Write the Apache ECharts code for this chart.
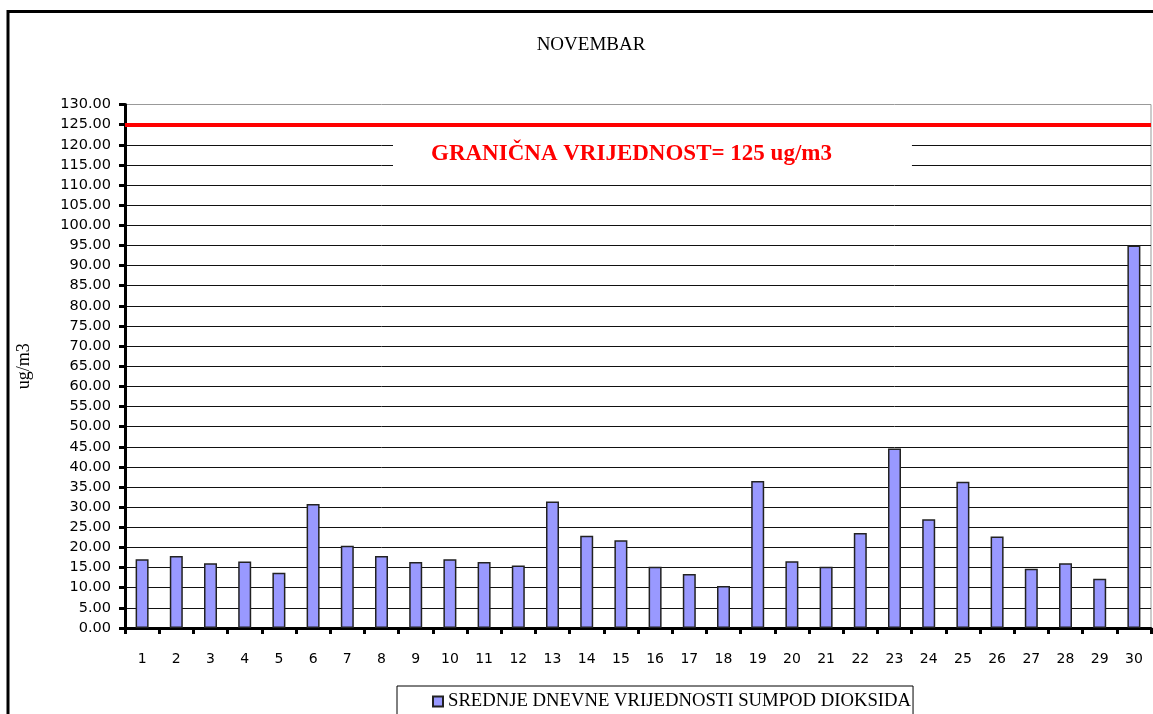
<!DOCTYPE html>
<html>
<head>
<meta charset="utf-8">
<script src="https://cdn.jsdelivr.net/npm/echarts@6/dist/echarts.min.js"></script>
<style>html,body{margin:0;padding:0;background:#fff;}#c{width:1153px;height:714px;}</style>
</head>
<body>
<div id="c"></div>
<script>
const days = ['1','2','3','4','5','6','7','8','9','10','11','12','13','14','15','16','17','18','19','20','21','22','23','24','25','26','27','28','29','30'];
const so2Values = [17.1,17.9,16.1,16.5,13.7,30.8,20.4,17.9,16.4,17.1,16.4,15.5,31.4,22.9,21.8,15.2,13.4,10.4,36.5,16.6,15.2,23.6,44.6,27.0,36.3,22.7,14.7,16.1,12.2,95.0];
const limitValue = 125;
const seriesName = 'SREDNJE DNEVNE VRIJEDNOSTI SUMPOD DIOKSIDA';
const monthTitle = 'NOVEMBAR';
const limitLabel = 'GRANIČNA VRIJEDNOST= 125 ug/m3';
const unitLabel = 'ug/m3';
const yMin = 0, yMax = 130, yStep = 5;

const chart = echarts.init(document.getElementById('c'));
chart.setOption({
  backgroundColor: '#fff',
  animation: false,
  title: {
    text: monthTitle,
    left: 586, top: 31, textAlign: 'center',
    textStyle: { fontFamily: 'Liberation Serif', fontSize: 19, fontWeight: 'normal', color: '#000' }
  },
  grid: {
    left: 125, right: 2, top: 104.5, bottom: 86,
    show: true, borderColor: '#999', borderWidth: 1, backgroundColor: '#fff'
  },
  legend: {
    data: [{ name: seriesName, icon: 'rect' }],
    left: 397, top: 686,
    padding: [6, 2, 20, 35],
    itemWidth: 10, itemHeight: 10, itemGap: 4,
    borderColor: '#000', borderWidth: 1, backgroundColor: '#fff',
    textStyle: { fontFamily: 'Liberation Serif', fontSize: 18.7, color: '#000' }
  },
  xAxis: {
    type: 'category',
    data: days,
    boundaryGap: true,
    axisLine: { lineStyle: { color: '#000', width: 3 } },
    axisTick: { show: true, length: 6, alignWithLabel: false, lineStyle: { color: '#000', width: 3 } },
    axisLabel: { margin: 24, fontFamily: 'DejaVu Sans', fontSize: 14, color: '#000', interval: 0 },
    splitLine: { show: false }
  },
  yAxis: {
    type: 'value',
    min: yMin, max: yMax, interval: yStep,
    name: unitLabel,
    nameLocation: 'middle', nameRotate: 90, nameGap: 92,
    nameTextStyle: { fontFamily: 'Liberation Serif', fontSize: 18, color: '#000' },
    axisLine: { show: true, lineStyle: { color: '#000', width: 3 } },
    axisTick: { show: true, length: 6, lineStyle: { color: '#000', width: 3 } },
    axisLabel: { margin: 14, fontFamily: 'DejaVu Sans', fontSize: 14.5, color: '#000', formatter: v => v.toFixed(2) },
    splitLine: { show: true, showMaxLine: false, lineStyle: { color: '#111', width: 1 } }
  },
  series: [{
    name: seriesName,
    type: 'bar',
    data: so2Values,
    barWidth: 13,
    itemStyle: { color: '#9999FF', borderColor: '#222', borderWidth: 1.5 },
    markLine: {
      silent: true,
      symbol: 'none',
      label: { show: false },
      lineStyle: { color: '#FF0000', width: 4, type: 'solid' },
      data: [{ yAxis: limitValue }],
      z: 5
    }
  }],
  graphic: [
    {
      type: 'text', z: 100, x: 393, y: 141,
      style: {
        text: limitLabel,
        fill: '#FF0000',
        font: 'bold 23px "Liberation Serif"',
        backgroundColor: '#fff',
        padding: [2, 80, 2, 38],
        textVerticalAlign: 'top'
      }
    },
    {
      type: 'rect', z: 100,
      shape: { x: 8, y: 11.5, width: 1400, height: 900 },
      style: { fill: 'none', stroke: '#000', lineWidth: 3 }
    }
  ]
});
</script>
</body>
</html>
